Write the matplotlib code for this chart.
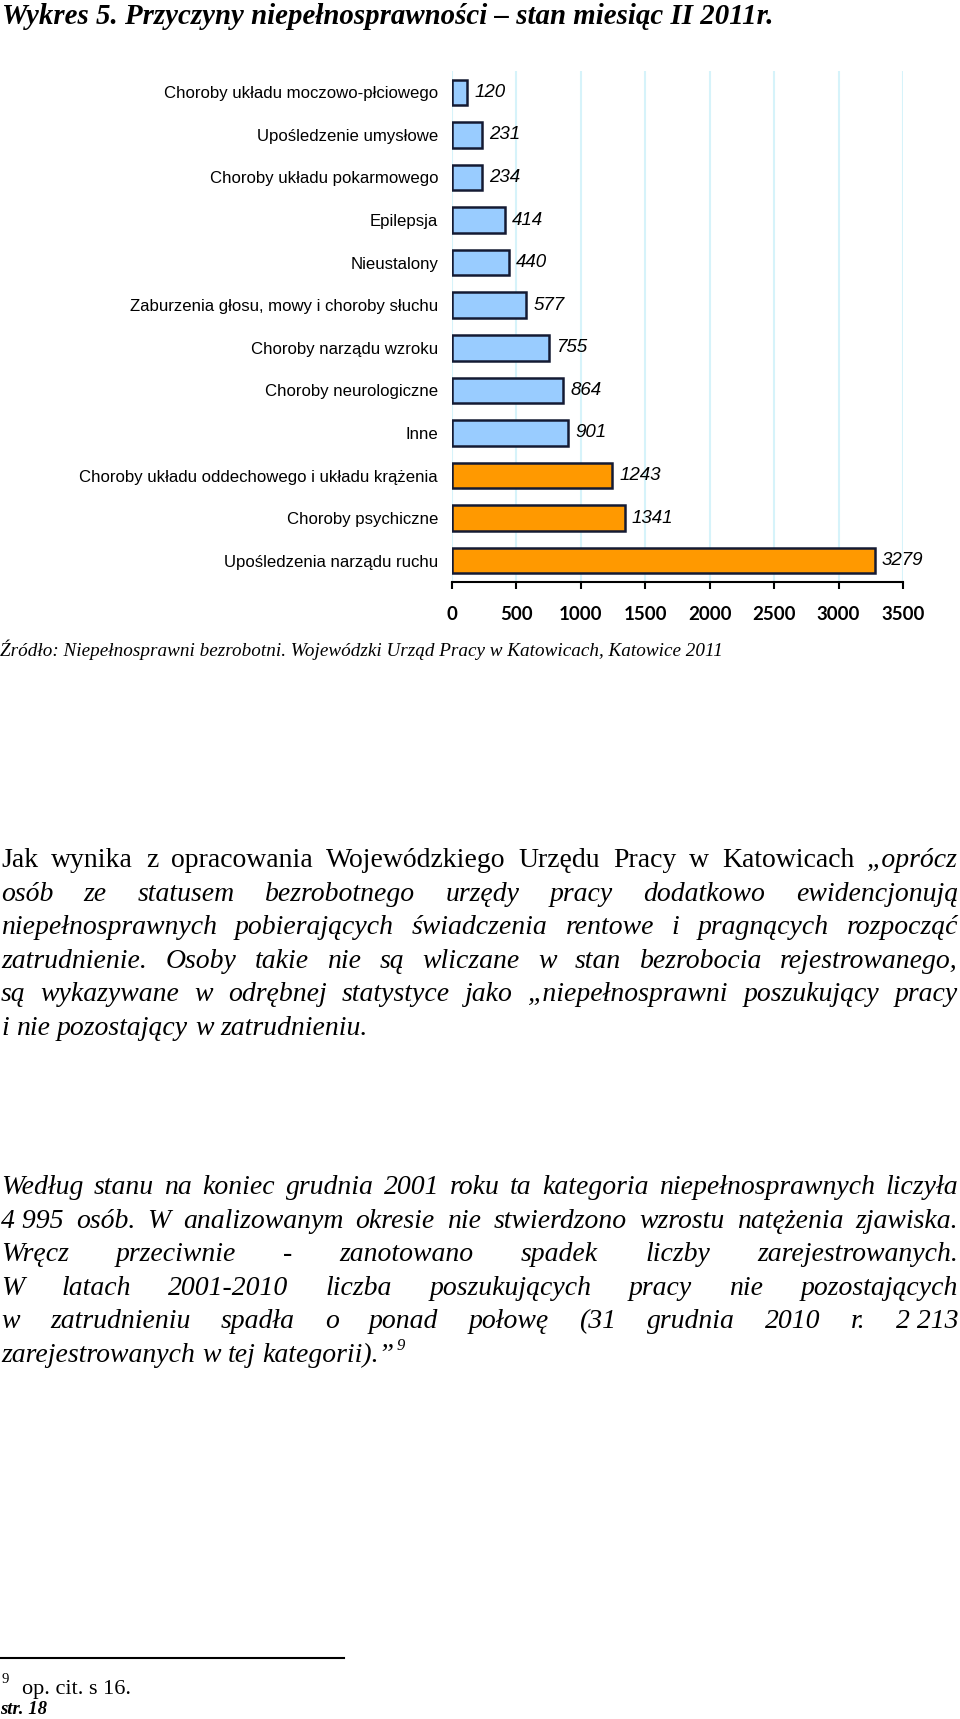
import matplotlib
matplotlib.use("Agg")
import matplotlib.pyplot as plt
import numpy as np

# ---------------- data ----------------
categories = [
    "Choroby układu moczowo-płciowego",
    "Upośledzenie umysłowe",
    "Choroby układu pokarmowego",
    "Epilepsja",
    "Nieustalony",
    "Zaburzenia głosu, mowy i choroby słuchu",
    "Choroby narządu wzroku",
    "Choroby neurologiczne",
    "Inne",
    "Choroby układu oddechowego i układu krążenia",
    "Choroby psychiczne",
    "Upośledzenia narządu ruchu",
]
values = [120, 231, 234, 414, 440, 577, 755, 864, 901, 1243, 1341, 3279]
highlight = [False] * 9 + [True] * 3
xticks = [0, 500, 1000, 1500, 2000, 2500, 3000, 3500]

title = "Wykres 5. Przyczyny niepełnosprawności – stan miesiąc II 2011r."
source = "Źródło: Niepełnosprawni bezrobotni. Wojewódzki Urząd Pracy w Katowicach, Katowice 2011"

# paragraph lines: list of (text, style) ; style n=normal, i=italic
para1 = [
    [("Jak wynika z opracowania Wojewódzkiego Urzędu Pracy w Katowicach", "n"), ("„oprócz", "i")],
    [("osób ze statusem bezrobotnego urzędy pracy dodatkowo ewidencjonują", "i")],
    [("niepełnosprawnych pobierających świadczenia rentowe i pragnących rozpocząć", "i")],
    [("zatrudnienie. Osoby takie nie są wliczane w stan bezrobocia rejestrowanego,", "i")],
    [("są wykazywane w odrębnej statystyce jako „niepełnosprawni poszukujący pracy", "i")],
    [("i nie pozostający w zatrudnieniu.", "i")],
]
para2 = [
    [("Według stanu na koniec grudnia 2001 roku ta kategoria niepełnosprawnych liczyła", "i")],
    [("4\u00a0995 osób. W analizowanym okresie nie stwierdzono wzrostu natężenia zjawiska.", "i")],
    [("Wręcz przeciwnie - zanotowano spadek liczby zarejestrowanych.", "i")],
    [("W latach 2001-2010 liczba poszukujących pracy nie pozostających", "i")],
    [("w zatrudnieniu spadła o ponad połowę (31 grudnia 2010 r. 2\u00a0213", "i")],
    [("zarejestrowanych w tej kategorii).”", "i")],
]
footnote_text = "op. cit. s 16."
footnote_mark = "9"
page_text = "str. 18"

# ---------------- figure ----------------
W, H, DPI = 960, 1719, 100
fig = plt.figure(figsize=(W / DPI, H / DPI), dpi=DPI)
fig.patch.set_facecolor("white")

def fx(px):
    return px / W

def fy(py):
    return 1 - py / H

SERIF = "Liberation Serif"
SANS = "Liberation Sans"

# title
fig.text(fx(2), fy(17), title, fontsize=20.8, fontfamily=SERIF, fontweight="bold",
         fontstyle="italic", va="center", ha="left")

# chart axes
ax_left, ax_right, ax_top, ax_bottom = 452, 903, 71, 582
ax = fig.add_axes([fx(ax_left), fy(ax_bottom), fx(ax_right - ax_left), (ax_bottom - ax_top) / H])
ypos = np.arange(len(categories))
colors = ["#FF9900" if h else "#99CCFF" for h in highlight]
ax.barh(ypos, values, height=0.6, color=colors, edgecolor="#141a33", linewidth=1.8, zorder=3)
ax.set_ylim(len(categories) - 0.5, -0.5)
ax.set_xlim(0, 3500)
ax.set_xticks(xticks)
ax.set_xticklabels([str(t) for t in xticks], fontfamily="Lato", fontweight="bold", fontsize=13.5)
ax.set_yticks(ypos)
ax.set_yticklabels(categories, fontfamily=SANS, fontsize=12.1)
ax.tick_params(axis="y", length=0, pad=10)
ax.tick_params(axis="x", direction="out", length=5, width=1.5, pad=12, colors="black")
for s in ["top", "right", "left"]:
    ax.spines[s].set_visible(False)
ax.spines["bottom"].set_linewidth(1.5)
ax.xaxis.grid(True, color="#d6f3fa", linewidth=1.5, zorder=0)
ax.set_axisbelow(True)
for yv, v in zip(ypos, values):
    ax.annotate(str(v), (v, yv), xytext=(5, 0), textcoords="offset points",
                ha="left", va="center", fontsize=13.5, fontfamily=SANS, fontstyle="italic")

# source
fig.text(fx(0), fy(650), source, fontsize=13.8, fontfamily=SERIF, fontstyle="italic",
         va="center", ha="left")

# ---------------- justified paragraphs ----------------
renderer = fig.canvas.get_renderer()
BODY_SIZE = 20
LEFT, RIGHT = 1, 958

def word_tokens(line):
    toks = []
    for text, style in line:
        for w in text.split(" "):
            if w:
                toks.append((w, style))
    return toks

def draw_line(baseline_px, line, justify):
    toks = word_tokens(line)
    objs = []
    widths = []
    for w, st in toks:
        t = fig.text(0, fy(baseline_px), w, fontsize=BODY_SIZE, fontfamily=SERIF,
                     fontstyle="italic" if st == "i" else "normal", va="baseline", ha="left")
        objs.append(t)
        widths.append(t.get_window_extent(renderer).width)
    sp = fig.text(0, 0, "a a", fontsize=BODY_SIZE, fontfamily=SERIF)
    sp2 = fig.text(0, 0, "aa", fontsize=BODY_SIZE, fontfamily=SERIF)
    space_w = sp.get_window_extent(renderer).width - sp2.get_window_extent(renderer).width
    sp.remove(); sp2.remove()
    if justify and len(toks) > 1:
        gap = (RIGHT - LEFT - sum(widths)) / (len(toks) - 1)
    else:
        gap = space_w
    x = LEFT
    for t, wdt in zip(objs, widths):
        t.set_x(fx(x))
        x += wdt + gap
    return x - gap

p1_base = [867, 901, 934, 968, 1001, 1035]
for i, (line, b) in enumerate(zip(para1, p1_base)):
    draw_line(b, line, justify=(i < len(para1) - 1))

p2_base = [1194, 1228, 1261, 1295, 1328, 1362]
end_x = None
for i, (line, b) in enumerate(zip(para2, p2_base)):
    end_x = draw_line(b, line, justify=(i < len(para2) - 1))
# superscript footnote mark
fig.text(fx(end_x + 2), fy(p2_base[-1] - 12), footnote_mark, fontsize=12, fontfamily=SERIF,
         fontstyle="italic", va="baseline", ha="left")

# ---------------- footnote ----------------
fig.add_artist(plt.Line2D([fx(0), fx(344)], [fy(1658), fy(1658)], color="black", linewidth=1.5))
fig.text(fx(2), fy(1683), footnote_mark, fontsize=10.5, fontfamily=SERIF, va="baseline", ha="left")
fig.text(fx(22), fy(1694), footnote_text, fontsize=16, fontfamily=SERIF, va="baseline", ha="left")
fig.text(fx(0), fy(1714), page_text, fontsize=13.5, fontfamily=SERIF, fontweight="bold",
         fontstyle="italic", va="baseline", ha="left")

fig.savefig("out.png", dpi=DPI, facecolor="white")
